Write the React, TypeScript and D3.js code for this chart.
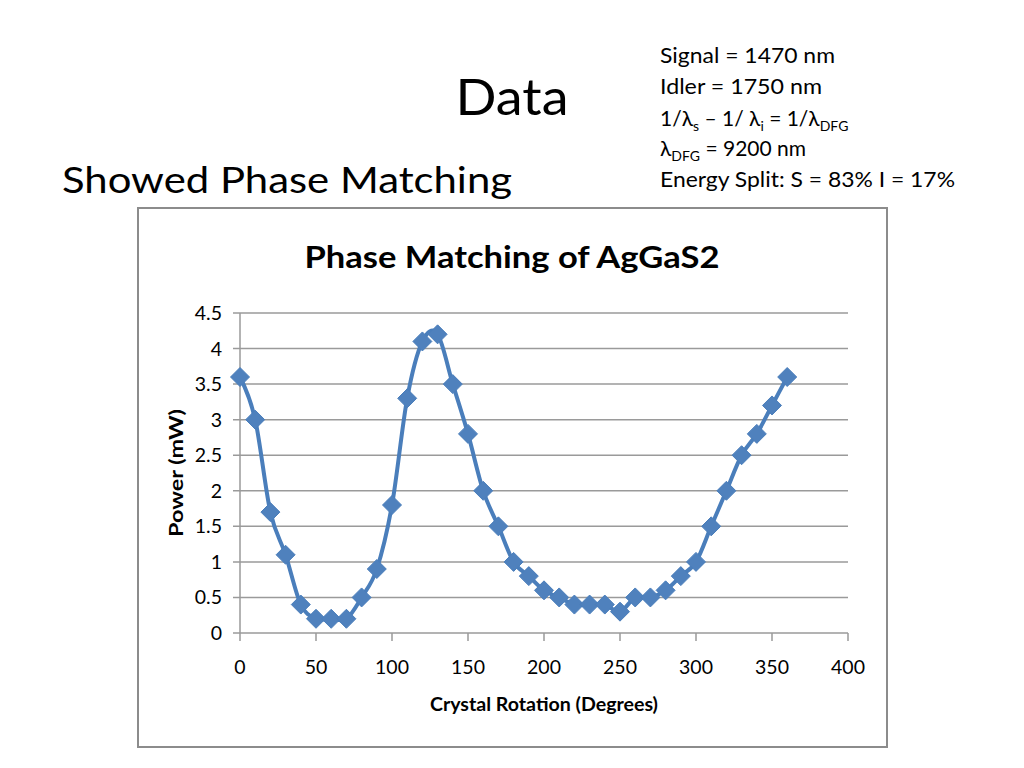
import React from 'react';
import * as d3 from 'd3';

const rotation = [0, 10, 20, 30, 40, 50, 60, 70, 80, 90, 100, 110, 120, 130, 140, 150, 160, 170, 180, 190, 200, 210, 220, 230, 240, 250, 260, 270, 280, 290, 300, 310, 320, 330, 340, 350, 360];
const power = [3.6, 3.0, 1.7, 1.1, 0.4, 0.2, 0.2, 0.2, 0.5, 0.9, 1.8, 3.3, 4.1, 4.2, 3.5, 2.8, 2.0, 1.5, 1.0, 0.8, 0.6, 0.5, 0.4, 0.4, 0.4, 0.3, 0.5, 0.5, 0.6, 0.8, 1.0, 1.5, 2.0, 2.5, 2.8, 3.2, 3.6];
const xTicks = [0, 50, 100, 150, 200, 250, 300, 350, 400];
const yTicks = [0, 0.5, 1, 1.5, 2, 2.5, 3, 3.5, 4, 4.5];

const font = "Lato, 'Open Sans', sans-serif";

const App: React.FC = () => {
  const x = d3.scaleLinear().domain([0, 400]).range([240, 848]);
  const y = d3.scaleLinear().domain([0, 4.5]).range([633, 313]);

  const points = rotation.map((r, i) => [r, power[i]] as [number, number]);
  const line = d3.line<[number, number]>()
    .x(d => x(d[0]))
    .y(d => y(d[1]))
    .curve(d3.curveCatmullRom.alpha(0));

  const diamond = (cx: number, cy: number, s = 9.5) =>
    `M${cx},${cy - s}L${cx + s},${cy}L${cx},${cy + s}L${cx - s},${cy}Z`;

  return (
    <svg width={1024} height={768} style={{ position: 'absolute', left: 0, top: 0, background: '#fff' }}>
      <text x={512} y={115} textAnchor="middle" fontFamily={font} fontSize={50} fill="#000" textLength={113} lengthAdjust="spacingAndGlyphs">Data</text>
      <text x={62} y={193} fontFamily={font} fontSize={37} fill="#000" textLength={450} lengthAdjust="spacingAndGlyphs">Showed Phase Matching</text>

      <g fontFamily={font} fontSize={21} fill="#000">
        <text x={660} y={63} textLength={175} lengthAdjust="spacingAndGlyphs">Signal = 1470 nm</text>
        <text x={660} y={94} textLength={162} lengthAdjust="spacingAndGlyphs">Idler = 1750 nm</text>
        <text x={660} y={126}>
          1/λ<tspan fontSize={14} dy={5}>s</tspan>
          <tspan dy={-5}> – 1/ λ</tspan><tspan fontSize={14} dy={5}>i</tspan>
          <tspan dy={-5}> = 1/λ</tspan><tspan fontSize={14} dy={5}>DFG</tspan>
        </text>
        <text x={660} y={156}>
          λ<tspan fontSize={14} dy={5}>DFG</tspan><tspan dy={-5}> = 9200 nm</tspan>
        </text>
        <text x={660} y={187} textLength={295} lengthAdjust="spacingAndGlyphs">Energy Split: S = 83% I = 17%</text>
      </g>

      <rect x={138} y={208} width={749} height={539} fill="#fff" stroke="#8c8c8c" strokeWidth={2} />

      <text x={512} y={268} textAnchor="middle" fontFamily={font} fontWeight="bold" fontSize={31} fill="#000" textLength={415} lengthAdjust="spacingAndGlyphs">Phase Matching of AgGaS2</text>

      {yTicks.map(t => (
        <g key={`y${t}`}>
          <line x1={233} x2={848} y1={y(t)} y2={y(t)} stroke="#9a9a9a" strokeWidth={1.5} />
          <text x={222} y={y(t) + 7} textAnchor="end" fontFamily={font} fontSize={19.5} fill="#000">{t}</text>
        </g>
      ))}
      <line x1={240} x2={240} y1={313} y2={633} stroke="#9a9a9a" strokeWidth={1.5} />
      {xTicks.map(t => (
        <g key={`x${t}`}>
          <line x1={x(t)} x2={x(t)} y1={633} y2={641} stroke="#9a9a9a" strokeWidth={1.5} />
          <text x={x(t)} y={674} textAnchor="middle" fontFamily={font} fontSize={19.5} fill="#000">{t}</text>
        </g>
      ))}

      <text x={544} y={711} textAnchor="middle" fontFamily={font} fontWeight="bold" fontSize={19} fill="#000" textLength={228} lengthAdjust="spacingAndGlyphs">Crystal Rotation (Degrees)</text>
      <text transform="translate(183,473) rotate(-90)" textAnchor="middle" fontFamily={font} fontWeight="bold" fontSize={19} fill="#000" textLength={128} lengthAdjust="spacingAndGlyphs">Power (mW)</text>

      <path d={line(points) ?? ''} fill="none" stroke="#4a7ebb" strokeWidth={4} />
      {points.map(([r, p]) => (
        <path key={r} d={diamond(x(r), y(p))} fill="#4f81bd" stroke="#4a7ebb" strokeWidth={1} />
      ))}
    </svg>
  );
};

export default App;
